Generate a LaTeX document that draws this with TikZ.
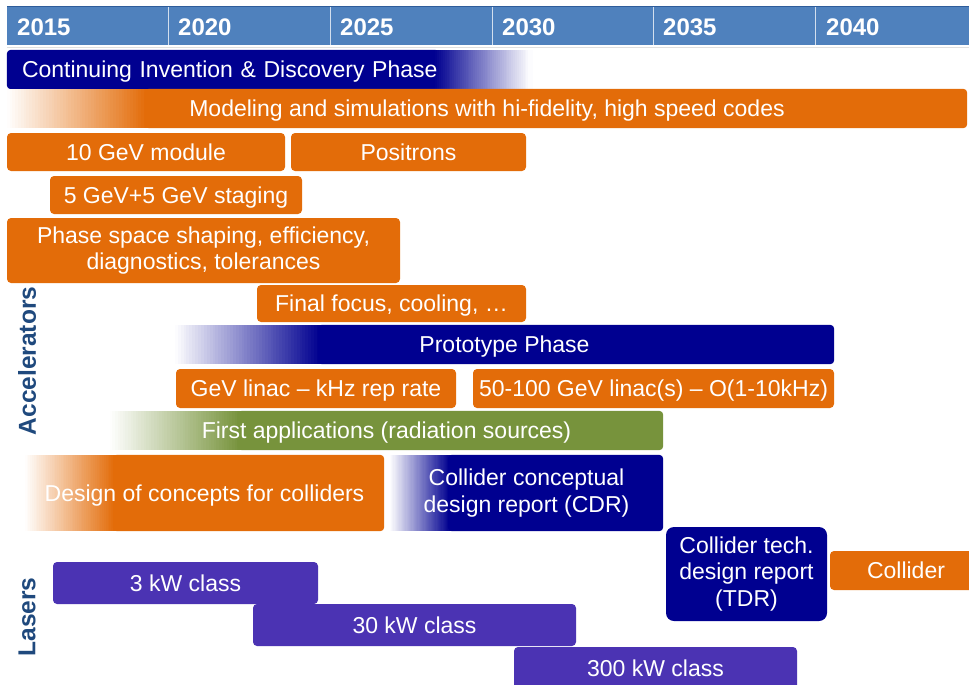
\documentclass[tikz,border=0pt]{standalone}
\usepackage{fontspec}
\setmainfont{Liberation Sans}
\usetikzlibrary{positioning, calc, backgrounds}

\definecolor{hdrblue}{HTML}{4F81BD}
\definecolor{hdrline}{HTML}{2E5C9A}
\definecolor{navybar}{HTML}{000090}
\definecolor{orangebar}{HTML}{E36C09}
\definecolor{greenbar}{HTML}{77933C}
\definecolor{laserbar}{HTML}{4B33B3}
\definecolor{sidetext}{HTML}{1F497D}

% #1 node, #2 colour, #3 fade width (white -> colour from the left)
\newcommand{\fadein}[3]{%
  \foreach \i [evaluate=\i as \p using 100*(\i+0.5)/50] in {0,...,49}
    \fill[#2!\p!white] ($(#1.north west)+(\i*#3/50,0)$) rectangle ($(#1.south west)+(\i*#3/50+#3/50+2.5,0)$);
  \fill[#2, rounded corners=4pt] ($(#1.north west)+(#3-2,0)$) rectangle (#1.south east);
}
% colour -> white towards the right end
\newcommand{\fadeout}[3]{%
  \fill[#2, rounded corners=4pt] (#1.north west) rectangle ($(#1.south east)-(#3-4,0)$);
  \foreach \i [evaluate=\i as \p using 100-100*(\i+0.5)/50] in {0,...,49}
    \fill[#2!\p!white] ($(#1.north east)-(#3,0)+(\i*#3/50,0)$) rectangle ($(#1.south east)-(#3,0)+(\i*#3/50+#3/50+2.5,0)$);
}

\tikzset{
  bar/.style={text=white, font=\fontsize{23}{26.5}\selectfont, inner sep=0pt,
    rounded corners=4pt, align=center, text height=16.5pt, text depth=0pt},
  multi/.style={text height={}, text depth={}},
  orangebox/.style={bar, fill=orangebar},
  navybox/.style={bar, fill=navybar},
  greenbox/.style={bar, fill=greenbar},
  laserbox/.style={bar, fill=laserbar},
  fadebox/.style={bar},
  year/.style={text=white, font=\fontsize{24}{26}\selectfont\bfseries,
    anchor=west, inner sep=0pt},
  side/.style={text=sidetext, font=\fontsize{24.5}{28}\selectfont\bfseries,
    rotate=90, inner sep=0pt},
}

\begin{document}
\begin{tikzpicture}[x=1pt, y=-1pt]
    \useasboundingbox (0,0) rectangle (969,685);

    %ヘッダー
    \fill[hdrblue] (7,7) rectangle (969,45);
    \draw[hdrline, line width=1.5pt] (7,6.5) -- (969,6.5);
    \draw[white!75!hdrblue, line width=1pt] (168,7) -- (168,45);
    \draw[white!75!hdrblue, line width=1pt] (330,7) -- (330,45);
    \draw[white!75!hdrblue, line width=1pt] (492,7) -- (492,45);
    \draw[white!75!hdrblue, line width=1pt] (653,7) -- (653,45);
    \draw[white!75!hdrblue, line width=1pt] (815,7) -- (815,45);
    \draw[black!12, line width=1pt] (7,47.5) -- (969,47.5);

    \node[year] (y2015) at (17,27) {2015};
    \node[year] (y2020) at (178,27) {2020};
    \node[year] (y2025) at (340,27) {2025};
    \node[year] (y2030) at (502,27) {2030};
    \node[year] (y2035) at (663,27) {2035};
    \node[year] (y2040) at (826,27) {2040};

    %加速器のバー
    \node[fadebox, minimum width=523, minimum height=39, text width=493, align=left]
        (cont) at (268.5,69.5) {Continuing Invention \& Discovery Phase};
    \node[fadebox, minimum width=960, minimum height=39]
        (model) at (487,108.5) {Modeling and simulations with hi-fidelity, high speed codes};
    \node[orangebox, minimum width=278, minimum height=38] (tengev) at (146,152) {10 GeV module};
    \node[orangebox, minimum width=235, minimum height=38] (positrons) at (408.5,152) {Positrons};
    \node[orangebox, minimum width=252, minimum height=38] (staging) at (176,195) {5 GeV+5 GeV staging};
    \node[orangebox, multi, minimum width=393, minimum height=65]
        (phasespace) at (203.5,250.5) {Phase space shaping, efficiency,\\diagnostics, tolerances};
    \node[orangebox, minimum width=269, minimum height=37] (finalfocus) at (391.5,303.5) {Final focus, cooling, \ldots};
    \node[fadebox, minimum width=659, minimum height=39] (proto) at (504.5,344.5) {Prototype Phase};
    \node[orangebox, minimum width=280, minimum height=39] (gevlinac) at (316,388.5) {GeV linac -- kHz rep rate};
    \node[orangebox, minimum width=361, minimum height=39]
        (hundredgev) at (653.5,388.5) {50-100 GeV linac(s) -- O(1-10kHz)};
    \node[fadebox, minimum width=553, minimum height=39]
        (firstapp) at (386.5,430.5) {First applications (radiation sources)};
    \node[fadebox, minimum width=359, minimum height=76] (design) at (204.5,493) {Design of concepts for colliders};
    \node[fadebox, multi, minimum width=273, minimum height=76]
        (cdr) at (526.5,493) {Collider conceptual\\design report (CDR)};
    \node[navybox, multi, rounded corners=8pt, minimum width=161, minimum height=94]
        (tdr) at (746.5,574) {Collider tech.\\design report\\(TDR)};
    \node[orangebox, minimum width=152, minimum height=39] (collider) at (906,570.5) {Collider};

    %レーザーのバー
    \node[laserbox, minimum width=265, minimum height=42] (threekw) at (185.5,583) {3 kW class};
    \node[laserbox, minimum width=323, minimum height=42] (thirtykw) at (414.5,625) {30 kW class};
    \node[laserbox, minimum width=283, minimum height=43] (threehundredkw) at (655.5,668.5) {300 kW class};

    %ラベル
    \node[side] (accel) at (27,361) {Accelerators};
    \node[side] (lasers) at (27,617) {Lasers};

    %グラデーション
    \begin{scope}[on background layer]
        \fadeout{cont}{navybar}{95}
        \fadein{model}{orangebar}{140}
        \fadein{proto}{navybar}{145}
        \fadein{firstapp}{greenbar}{130}
        \fadein{design}{orangebar}{90}
        \fadein{cdr}{navybar}{60}
    \end{scope}
\end{tikzpicture}
\end{document}
